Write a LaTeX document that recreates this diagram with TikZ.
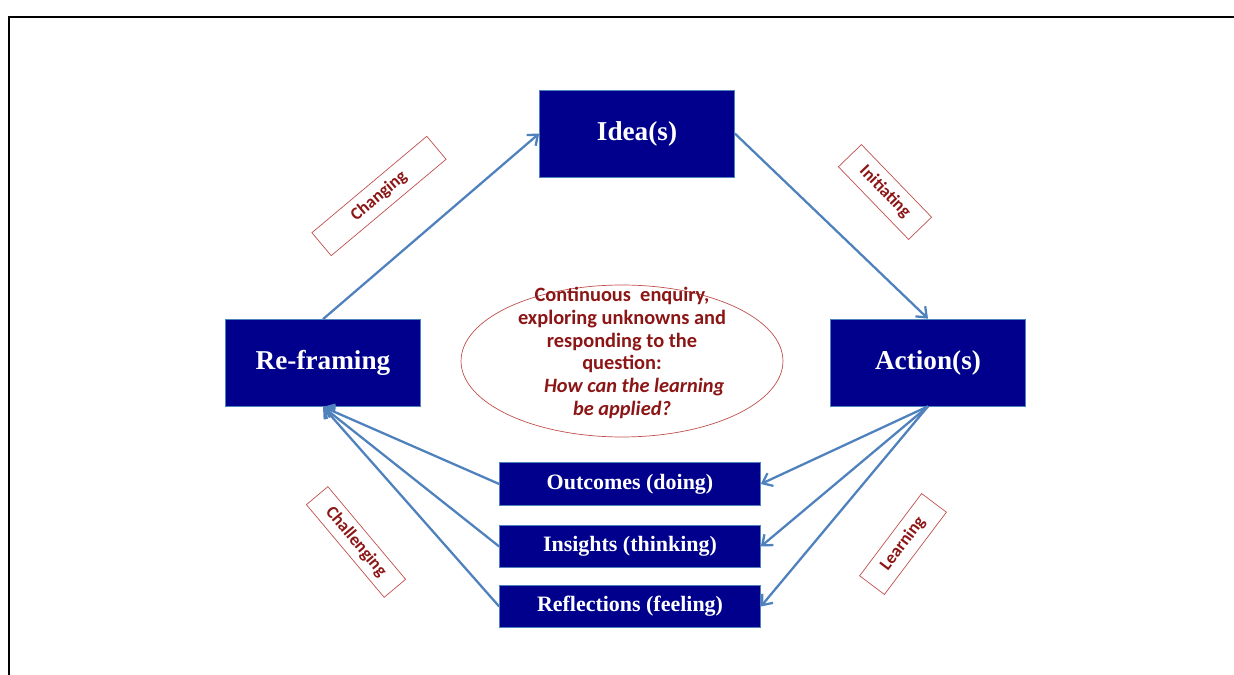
\documentclass[tikz,border=0pt]{standalone}
\usepackage{fontspec}
\setmainfont{Liberation Serif}
\newfontfamily\labelfont{Carlito}
\usetikzlibrary{arrows.meta,shapes.geometric}

\definecolor{navy}{RGB}{0,0,140}
\definecolor{edgeblue}{RGB}{79,129,189}
\definecolor{darkred}{RGB}{140,22,22}
\definecolor{rimred}{RGB}{192,80,77}

\begin{document}
\begin{tikzpicture}[x=0.02cm,y=-0.02cm,
	bigbox/.style={draw=edgeblue, fill=navy, text=white, inner sep=0pt,
		minimum width=3.9cm, minimum height=1.74cm,
		font=\bfseries\fontsize{15.5}{17}\selectfont},
	smallbox/.style={draw=edgeblue, fill=navy, text=white, inner sep=0pt,
		minimum width=5.22cm, minimum height=0.85cm,
		font=\bfseries\fontsize{12.5}{14}\selectfont},
	tag/.style={draw=rimred, fill=white, text=darkred, inner sep=0pt,
		minimum height=0.6cm, font=\labelfont\bfseries\fontsize{10}{12}\selectfont},
	flow/.style={draw=edgeblue, line width=1.3pt, -{Straight Barb[length=5pt,width=8pt]}}]

% frame %{{{2

	\useasboundingbox (0,0) rectangle (1234,675);
	\draw[line width=1.7pt] (9,675) -- (9,17) -- (1234,17);

% main boxes %{{{2

	\node[bigbox] (idea) at (637,133.5) {Idea(s)};
	\node[bigbox] (reframe) at (323,363) {Re-framing};
	\node[bigbox] (action) at (928,362.5) {Action(s)};

% result boxes %{{{2

	\node[smallbox] (outcomes) at (630,484) {Outcomes (doing)};
	\node[smallbox] (insights) at (630,546.5) {Insights (thinking)};
	\node[smallbox] (reflections) at (630,606.5) {Reflections (feeling)};

% centre ellipse %{{{2

	\node[ellipse, draw=rimred, fill=white, minimum width=6.44cm,
		minimum height=3.04cm] (enquiry) at (622,361) {};
	\node[text=darkred, align=center, inner sep=0pt,
		font=\labelfont\bfseries\fontsize{11.6}{13}\selectfont] (question) at (622,353)
		{Continuous\ \ enquiry,\\ exploring unknowns and\\ responding to the\\ question:\\
		\hspace*{1.2em}\itshape How can the learning\\ \itshape be applied?};

% arrows %{{{2

	\draw[flow] (reframe.north) -- (idea.west);
	\draw[flow] (idea.east) -- (action.north);

	\foreach \b in {outcomes,insights,reflections} {
		\draw[flow] (action.south) -- (\b.east);
		\draw[flow] (\b.west) -- (reframe.south);
	}

% tags %{{{2

	\node[tag, minimum width=3.0cm, rotate=40] (changing) at (379,196) {Changing};
	\node[tag, minimum width=2.02cm, minimum height=0.64cm, rotate=-46] (initiating) at (885,192) {Initiating};
	\node[tag, minimum width=2.42cm, minimum height=0.56cm, rotate=-50] (challenging) at (356,542) {Challenging};
	\node[tag, minimum width=2.06cm, minimum height=0.62cm, rotate=53] (learning) at (903,544) {Learning};

\end{tikzpicture}
\end{document}
